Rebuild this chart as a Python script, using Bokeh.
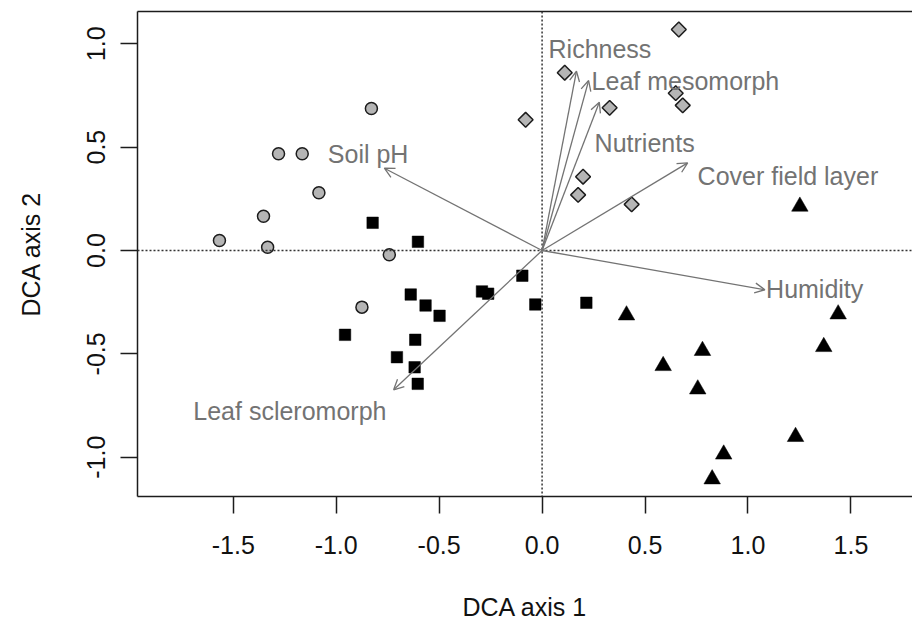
import numpy as np
from bokeh.plotting import figure
from bokeh.models import (Range1d, FixedTicker, LinearAxis, Span, Arrow, OpenHead,
                          ColumnDataSource)
from bokeh.core.properties import value
from bokeh.embed import file_html
from bokeh.resources import INLINE

# ---------------- data ----------------
circle_x = [-0.829, -1.280, -1.165, -1.084, -1.353, -1.567, -1.333, -0.742, -0.875]
circle_y = [0.687, 0.468, 0.468, 0.279, 0.166, 0.048, 0.016, -0.021, -0.274]

square_x = [-0.823, -0.603, -0.638, -0.566, -0.498, -0.292, -0.262, -0.096, -0.033,
            -0.957, -0.616, -0.705, -0.619, -0.604, 0.215]
square_y = [0.134, 0.042, -0.213, -0.266, -0.316, -0.198, -0.209, -0.122, -0.261,
            -0.408, -0.432, -0.516, -0.565, -0.645, -0.253]

triangle_x = [0.410, 0.588, 0.779, 0.756, 0.882, 0.826, 1.231, 1.368, 1.438, 1.252]
triangle_y = [-0.313, -0.558, -0.485, -0.671, -0.986, -1.106, -0.901, -0.466, -0.308, 0.213]

diamond_x = [0.664, 0.110, 0.649, 0.683, 0.328, -0.080, 0.199, 0.175, 0.435]
diamond_y = [1.069, 0.860, 0.761, 0.702, 0.690, 0.632, 0.357, 0.269, 0.223]

vector_names = ["Soil pH", "Richness", "Leaf mesomorph", "Nutrients",
                "Cover field layer", "Humidity", "Leaf scleromorph"]
vector_x = [-0.766, 0.167, 0.226, 0.278, 0.707, 1.082, -0.721]
vector_y = [0.398, 0.867, 0.822, 0.717, 0.424, -0.190, -0.674]
label_x = [-0.845, 0.281, 0.696, 0.498, 1.194, 1.324, -1.225]
label_y = [0.466, 0.976, 0.818, 0.520, 0.358, -0.186, -0.777]

x_ticks = [-1.5, -1.0, -0.5, 0.0, 0.5, 1.0, 1.5]
x_tick_labels = ["-1.5", "-1.0", "-0.5", "0.0", "0.5", "1.0", "1.5"]
y_ticks = [-1.0, -0.5, 0.0, 0.5, 1.0]
y_tick_labels = ["-1.0", "-0.5", "0.0", "0.5", "1.0"]

x_label = "DCA axis 1"
y_label = "DCA axis 2"

# ---------------- styling ----------------
FONT = "Liberation Sans"
GRAY = "#737373"
DARK = "#1c1c1c"

p = figure(width=912, height=628, output_backend="svg", toolbar_location=None,
           x_range=Range1d(-1.965, 1.799), y_range=Range1d(-1.190, 1.156),
           min_border_left=137, min_border_right=0, min_border_top=11,
           min_border_bottom=132, x_axis_label=x_label, y_axis_label=y_label)
p.outline_line_color = None
p.grid.visible = False
p.background_fill_color = "white"
p.border_fill_color = "white"

for ax in (p.xaxis[0], p.yaxis[0]):
    ax.major_tick_in = 0
    ax.major_tick_out = 17
    ax.minor_tick_line_color = None
    ax.major_tick_line_color = DARK
    ax.major_tick_line_width = 1.5
    ax.axis_line_color = DARK
    ax.axis_line_width = 1.5
    ax.major_label_text_font = FONT
    ax.major_label_text_font_size = "25px"
    ax.major_label_text_color = "#111111"
    ax.axis_label_text_font = FONT
    ax.axis_label_text_font_size = "25px"
    ax.axis_label_text_font_style = "normal"
    ax.axis_label_text_color = "#111111"

p.xaxis[0].ticker = FixedTicker(ticks=x_ticks)
p.xaxis[0].major_label_overrides = dict(zip(x_ticks, x_tick_labels))
p.xaxis[0].major_label_standoff = 22
p.xaxis[0].axis_label_standoff = 36

p.yaxis[0].ticker = FixedTicker(ticks=y_ticks)
p.yaxis[0].major_label_overrides = dict(zip(y_ticks, y_tick_labels))
p.yaxis[0].major_label_orientation = "vertical"
p.yaxis[0].major_label_standoff = 15
p.yaxis[0].axis_label_standoff = 40

top_axis = LinearAxis(ticker=FixedTicker(ticks=[]), major_tick_line_color=None,
                      minor_tick_line_color=None, major_label_text_font_size="0px",
                      major_tick_out=0, minor_tick_out=0, major_label_standoff=0,
                      axis_line_color=DARK, axis_line_width=1.5)
p.add_layout(top_axis, "above")

# zero lines
p.add_layout(Span(location=0, dimension="width", line_color="#333333",
                  line_width=1.5, line_dash="2 2"))
p.add_layout(Span(location=0, dimension="height", line_color="#333333",
                  line_width=1.5, line_dash="2 2"))

# points
p.scatter(circle_x, circle_y, marker="circle", size=12, fill_color="#b5b5b5",
          line_color=DARK, line_width=1.5)
p.scatter(square_x, square_y, marker="square", size=11.5, fill_color="black",
          line_color="black", line_width=0.5)
p.scatter(triangle_x, triangle_y, marker="triangle", size=16.5, fill_color="black",
          line_color="black", line_width=0.5)
p.scatter(diamond_x, diamond_y, marker="square", angle=np.pi / 4, size=10.5,
          fill_color="#b5b5b5", line_color=DARK, line_width=1.5)

# environmental vectors
src = ColumnDataSource(dict(x0=[0.0] * len(vector_x), y0=[0.0] * len(vector_y),
                            x1=vector_x, y1=vector_y))
p.add_layout(Arrow(end=OpenHead(size=10, line_color=GRAY, line_width=1.3),
                   x_start="x0", y_start="y0", x_end="x1", y_end="y1", source=src,
                   line_color=GRAY, line_width=1.3))

p.text(x=label_x, y=label_y, text=vector_names, text_font=value(FONT),
       text_font_size=value("25px"), text_color=GRAY, text_align="center",
       text_baseline="alphabetic")

open("out.html", "w").write(file_html(p, INLINE))
